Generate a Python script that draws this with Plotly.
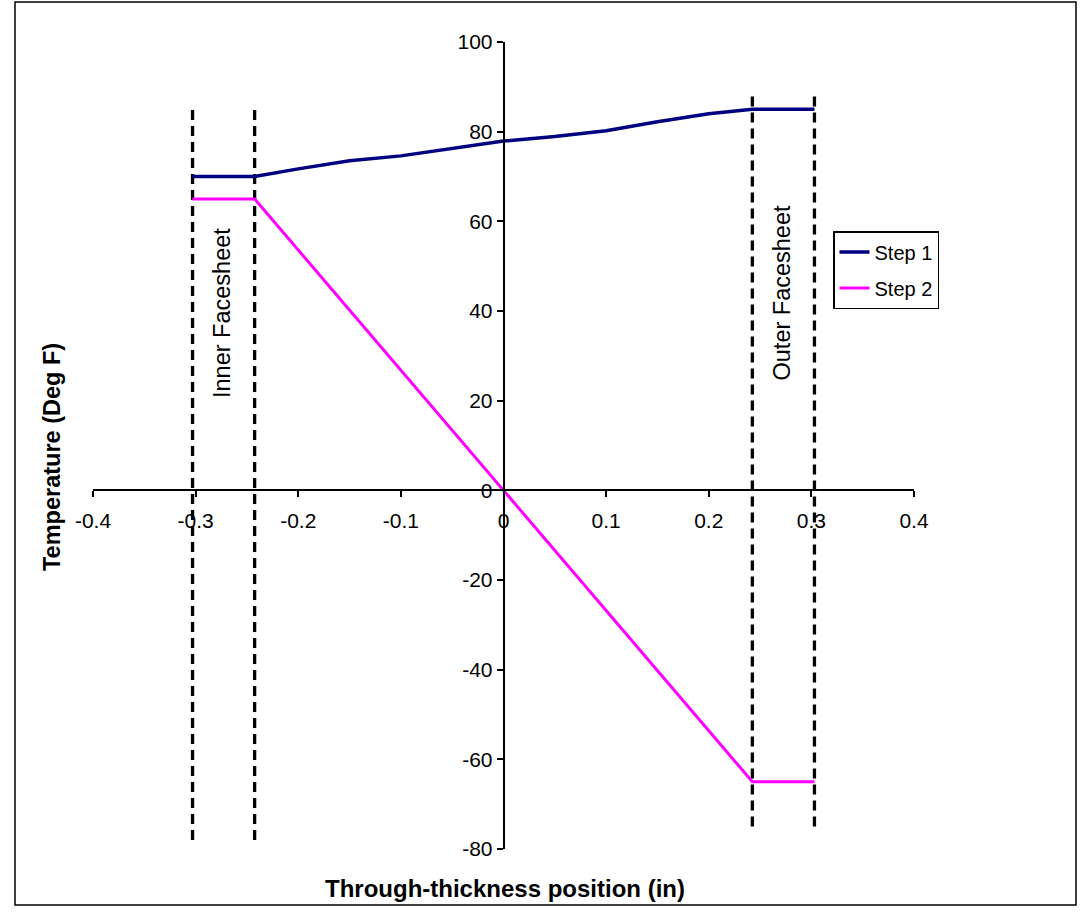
import plotly.graph_objects as go

# ---- data ----
x_pos = [-0.303, -0.2425, -0.2, -0.15, -0.1, -0.05, 0, 0.05, 0.1, 0.15, 0.2, 0.2425, 0.303]
step1 = [70, 70, 71.7, 73.5, 74.6, 76.2, 77.9, 78.9, 80.2, 82.2, 84.0, 85, 85]
step2 = [65, 65, 53.6, 40.2, 26.8, 13.4, 0, -13.4, -26.8, -40.2, -53.6, -65, -65]

inner_x = [-0.303, -0.2425]
inner_y = [-78, 85]
outer_x = [0.2425, 0.303]
outer_y = [-75, 88.5]

x_ticks = [-0.4, -0.3, -0.2, -0.1, 0, 0.1, 0.2, 0.3, 0.4]
x_ticktext = ["-0.4", "-0.3", "-0.2", "-0.1", "0", "0.1", "0.2", "0.3", "0.4"]
y_ticks = [-80, -60, -40, -20, 0, 20, 40, 60, 80, 100]
y_ticktext = ["-80", "-60", "-40", "-20", "0", "20", "40", "60", "80", "100"]

FONT = "Arial, Liberation Sans, sans-serif"

fig = go.Figure()

for xv in inner_x:
    fig.add_trace(go.Scatter(x=[xv, xv], y=inner_y, mode="lines", showlegend=False,
                             line=dict(color="black", width=3.3, dash="10px,6px"), hoverinfo="skip"))
for xv in outer_x:
    fig.add_trace(go.Scatter(x=[xv, xv], y=outer_y, mode="lines", showlegend=False,
                             line=dict(color="black", width=3.3, dash="10px,6px"), hoverinfo="skip"))

fig.add_trace(go.Scatter(x=x_pos, y=step1, mode="lines", name="Step 1", legendgroup="a",
                         line=dict(color="#000080", width=3.5)))
fig.add_trace(go.Scatter(x=x_pos, y=step2, mode="lines", name="Step 2", legendgroup="b",
                         line=dict(color="#FF00FF", width=3)))

L, R, T, B = 93, 166, 42, 69
W, H = 1080, 918
pw = W - L - R
ph = H - T - B

def px2x(px):
    return (px - L) / pw

def px2y(py):
    return (H - B - py) / ph

fig.update_layout(
    width=W, height=H,
    margin=dict(l=L, r=R, t=T, b=B),
    paper_bgcolor="white", plot_bgcolor="white",
    font=dict(family=FONT, color="black", size=21),
    xaxis=dict(range=[-0.4, 0.4], tickvals=x_ticks, ticktext=x_ticktext,
               showgrid=False, zeroline=False, showline=True, linecolor="black", linewidth=1.5,
               ticks="outside", ticklen=6, tickcolor="black", tickwidth=1.5,
               anchor="free", position=80 / 180, tickfont=dict(size=21),
               ticklabelstandoff=6),
    yaxis=dict(range=[-80, 100], tickvals=y_ticks, ticktext=y_ticktext,
               showgrid=False, zeroline=False, showline=True, linecolor="black", linewidth=1.5,
               ticks="outside", ticklen=6, tickcolor="black", tickwidth=1.5,
               anchor="free", position=0.5, tickfont=dict(size=21)),
    legend=dict(x=px2x(833), y=px2y(231), xanchor="left", yanchor="top",
                bgcolor="white", bordercolor="black", borderwidth=1.5,
                font=dict(size=20), tracegroupgap=7),
    showlegend=True,
)

# outer chart border
fig.add_shape(type="rect", xref="paper", yref="paper",
              x0=px2x(15), x1=px2x(1076), y0=px2y(905), y1=px2y(2),
              line=dict(color="black", width=1.5), fillcolor="rgba(0,0,0,0)", layer="below")

fig.add_annotation(text="<b>Temperature (Deg F)</b>", xref="paper", yref="paper",
                   x=px2x(52), y=px2y(457), xanchor="center", yanchor="middle",
                   showarrow=False, textangle=-90, font=dict(size=23.5))
fig.add_annotation(text="<b>Through-thickness position (in)</b>", xref="paper", yref="paper",
                   x=px2x(505), y=px2y(888), xanchor="center", yanchor="middle",
                   showarrow=False, font=dict(size=24))
fig.add_annotation(text="Inner Facesheet", x=-0.2745, y=39.5, showarrow=False,
                   xanchor="center", yanchor="middle", textangle=-90, font=dict(size=23.5))
fig.add_annotation(text="Outer Facesheet", x=0.2717, y=44.2, showarrow=False,
                   xanchor="center", yanchor="middle", textangle=-90, font=dict(size=23.5))

fig.write_html("out.html")
